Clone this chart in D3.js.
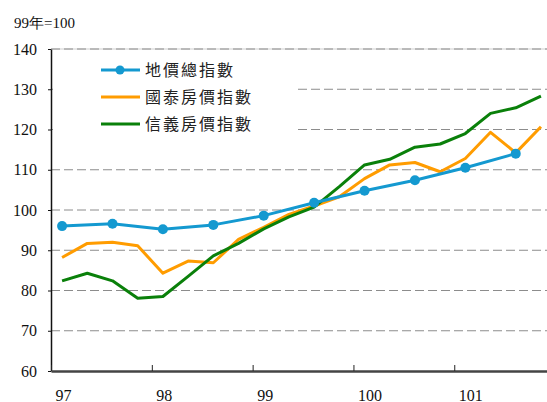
<!DOCTYPE html>
<html>
<head>
<meta charset="utf-8">
<script src="https://cdn.jsdelivr.net/npm/d3@7"></script>
<style>
  body { margin: 0; background: #fff; }
  svg { display: block; }
  .num { font-family: 'Liberation Serif', 'DejaVu Serif', serif; }
</style>
</head>
<body>
<div id="chart"></div>
<script>
// data (quarters 97Q1 .. 101Q4)
var years = [97, 98, 99, 100, 101];
var yTicks = [60, 70, 80, 90, 100, 110, 120, 130, 140];
var seriesNames = ["地價總指數", "國泰房價指數", "信義房價指數"];
var seriesColors = ["#1499d0", "#ff9c00", "#0a800a"];

// land index is semiannual (every second quarter)
var landIndex = [96.0, 96.6, 95.2, 96.3, 98.6, 101.8, 104.8, 107.4, 110.5, 114.0];
var cathay = [88.2, 91.7, 92.0, 91.1, 84.3, 87.3, 86.9, 92.7, 95.7, 98.9,
              101.0, 103.3, 107.8, 111.2, 111.8, 109.5, 112.8, 119.3, 114.2, 120.7];
var sinyi = [82.4, 84.3, 82.4, 78.1, 78.5, 83.5, 88.6, 91.7, 95.3, 98.3,
             100.7, 105.8, 111.2, 112.6, 115.6, 116.4, 119.0, 124.0, 125.4, 128.3];

var W = 547, H = 402;
var svg = d3.select("#chart").append("svg")
    .attr("width", W)
    .attr("height", H);

// scales
var x = d3.scaleLinear().domain([97, 101.92]).range([51, 547]);
var y = d3.scaleLinear().domain([60, 140]).range([371, 49]);

// quarter index -> position in years
function qx(i) { return x(97 + i * 0.25 + 0.11); }

// grid lines
svg.append("line")
    .attr("x1", 51).attr("x2", W)
    .attr("y1", y(140)).attr("y2", y(140))
    .attr("stroke", "#cfcfcf").attr("stroke-width", 1);

svg.append("g")
    .selectAll("line")
    .data(yTicks.filter(function(d) { return d > 60; }))
    .enter()
    .append("line")
    .attr("x1", 51).attr("x2", W)
    .attr("y1", function(d) { return y(d); })
    .attr("y2", function(d) { return y(d); })
    .attr("stroke", "#8c8c8c")
    .attr("stroke-width", 1)
    .attr("stroke-dasharray", "9,4");

// y axis
var yAxis = svg.append("g")
    .attr("transform", "translate(51,0)")
    .call(d3.axisLeft(y).tickValues(yTicks).tickSize(3).tickSizeOuter(0));
yAxis.attr("font-family", null);
yAxis.select(".domain").attr("stroke", "#111").attr("stroke-width", 1.5);
yAxis.selectAll(".tick line").attr("stroke", "#111");
yAxis.selectAll("text")
    .attr("class", "num")
    .attr("x", -14)
    .attr("font-size", 16)
    .attr("fill", "#111");

// x axis
var xAxis = svg.append("g")
    .attr("transform", "translate(0," + y(60) + ")")
    .call(d3.axisTop(x).tickValues(years).tickSize(6).tickSizeOuter(0).tickFormat(d3.format("d")));
xAxis.attr("font-family", null);
xAxis.select(".domain").attr("stroke", "#444").attr("stroke-width", 2.5);
xAxis.selectAll(".tick line").attr("stroke", "#222");
xAxis.selectAll("text")
    .attr("class", "num")
    .attr("y", 30)
    .attr("dy", 0)
    .attr("text-anchor", "start")
    .attr("dx", 4)
    .attr("font-size", 16)
    .attr("fill", "#111");

// unit label
svg.append("text")
    .attr("class", "num")
    .attr("x", 14)
    .attr("y", 28)
    .attr("font-size", 15)
    .attr("fill", "#111")
    .text("99年=100");

// legend background hides grid under it
svg.append("rect")
    .attr("x", 53).attr("y", 52)
    .attr("width", 243).attr("height", 97)
    .attr("fill", "#fff");

// lines
var line = d3.line()
    .x(function(d) { return qx(d.i); })
    .y(function(d) { return y(d.v); });

var landPts = landIndex.map(function(v, k) { return { i: k * 2, v: v }; });
var cathayPts = cathay.map(function(v, i) { return { i: i, v: v }; });
var sinyiPts = sinyi.map(function(v, i) { return { i: i, v: v }; });

[[cathayPts, seriesColors[1]], [sinyiPts, seriesColors[2]], [landPts, seriesColors[0]]].forEach(function(s) {
    svg.append("path")
        .datum(s[0])
        .attr("fill", "none")
        .attr("stroke", s[1])
        .attr("stroke-width", 3)
        .attr("stroke-linejoin", "round")
        .attr("d", line);
});

svg.append("g")
    .selectAll("circle")
    .data(landPts)
    .enter()
    .append("circle")
    .attr("cx", function(d) { return qx(d.i); })
    .attr("cy", function(d) { return y(d.v); })
    .attr("r", 5)
    .attr("fill", seriesColors[0]);

// legend
var legend = svg.append("g");
seriesNames.forEach(function(name, k) {
    var ly = 70 + k * 27;
    legend.append("line")
        .attr("x1", 101).attr("x2", 140)
        .attr("y1", ly).attr("y2", ly)
        .attr("stroke", seriesColors[k])
        .attr("stroke-width", 3);
    if (k == 0) {
        legend.append("circle")
            .attr("cx", 120).attr("cy", ly).attr("r", 4.5)
            .attr("fill", seriesColors[k]);
    }
    legend.append("text")
        .attr("x", 145)
        .attr("y", ly + 6)
        .attr("font-family", "'Noto Sans CJK TC', sans-serif")
        .attr("font-size", 16)
        .attr("letter-spacing", 2)
        .attr("fill", "#222")
        .text(name);
});
</script>
</body>
</html>
